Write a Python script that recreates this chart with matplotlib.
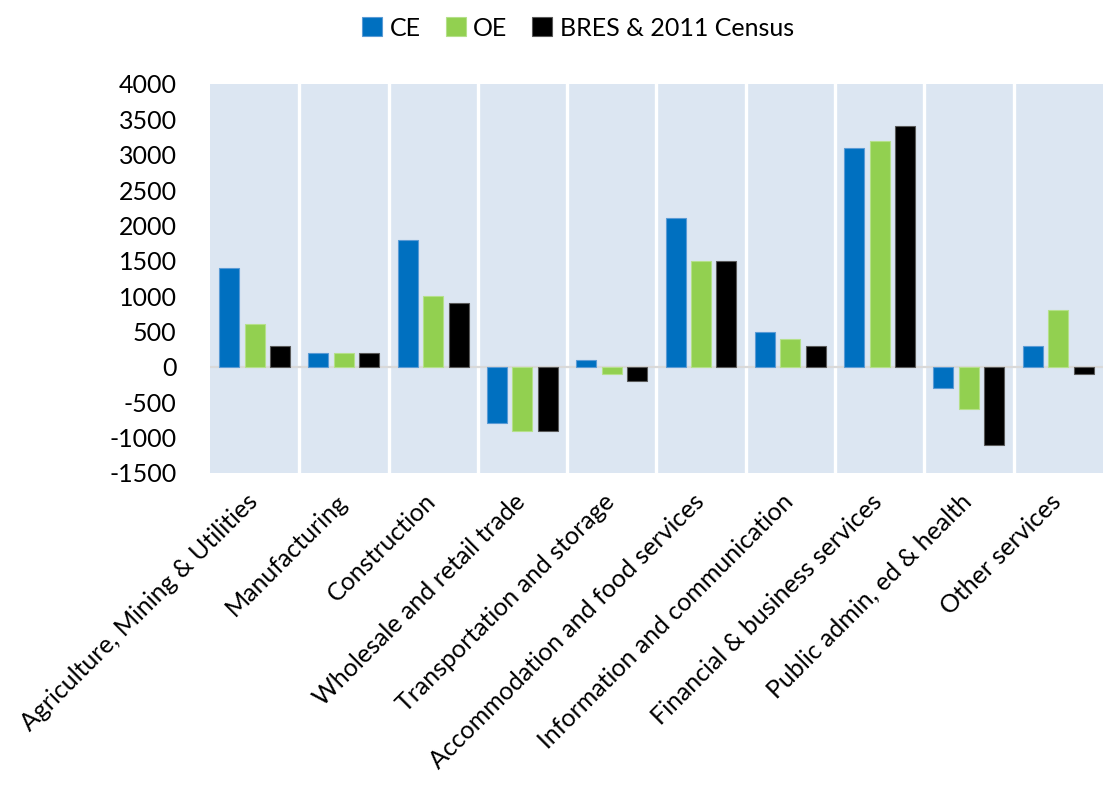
import numpy as np
import matplotlib.pyplot as plt
import matplotlib.transforms as mtransforms

plt.rcParams['font.family'] = ['Lato', 'DejaVu Sans']
plt.rcParams['axes.unicode_minus'] = False

sectors = ['Agriculture, Mining & Utilities', 'Manufacturing', 'Construction',
           'Wholesale and retail trade', 'Transportation and storage',
           'Accommodation and food services', 'Information and communication',
           'Financial & business services', 'Public admin, ed & health',
           'Other services']
ce = [1400, 200, 1800, -800, 100, 2100, 500, 3100, -300, 300]
oe = [600, 200, 1000, -900, -100, 1500, 400, 3200, -600, 800]
bres = [300, 200, 900, -900, -200, 1500, 300, 3400, -1100, -100]

series = [('CE', ce, '#0070C0', '#5B9BD5'),
          ('OE', oe, '#92D050', '#B5E08A'),
          ('BRES & 2011 Census', bres, '#000000', '#595959')]

fig = plt.figure(figsize=(11.05, 7.85), dpi=100)
ax = fig.add_axes([0.190, 0.3975, 0.808, 0.4955])
ax.set_facecolor('#DCE6F2')

x = np.arange(len(sectors))
offsets = [-0.285, 0, 0.285]
for (name, vals, fc, ec), off in zip(series, offsets):
    ax.bar(x + off, vals, width=0.224, color=fc, edgecolor=ec,
           linewidth=0.8, label=name, zorder=3)

# white gaps between sector panels
for k in range(len(sectors) - 1):
    ax.axvline(k + 0.5, color='white', lw=2.4, zorder=1)
ax.axhline(0, color='#D9D9D9', lw=1.6, zorder=2)

ax.set_xlim(-0.5, len(sectors) - 0.5)
ax.set_ylim(-1500, 4000)
ax.set_yticks(np.arange(-1500, 4001, 500))
ax.set_xticks(x)
ax.set_xticklabels(sectors, rotation=45, ha='right', rotation_mode='anchor')
ax.tick_params(axis='both', length=0, labelsize=18)
ax.tick_params(axis='y', pad=24)
ax.tick_params(axis='x', pad=12)
shift = mtransforms.ScaledTranslation(-9 / 100, 0, fig.dpi_scale_trans)
for lbl in ax.get_xticklabels():
    lbl.set_transform(lbl.get_transform() + shift)
for s in ax.spines.values():
    s.set_visible(False)

fig.legend(loc='center', bbox_to_anchor=(578 / 1105, 1 - 28 / 785), ncol=3,
           frameon=False, fontsize=18, handlelength=0.8, handleheight=0.8,
           handletextpad=0.3, columnspacing=1.0)

fig.savefig('out.png', dpi=100)
